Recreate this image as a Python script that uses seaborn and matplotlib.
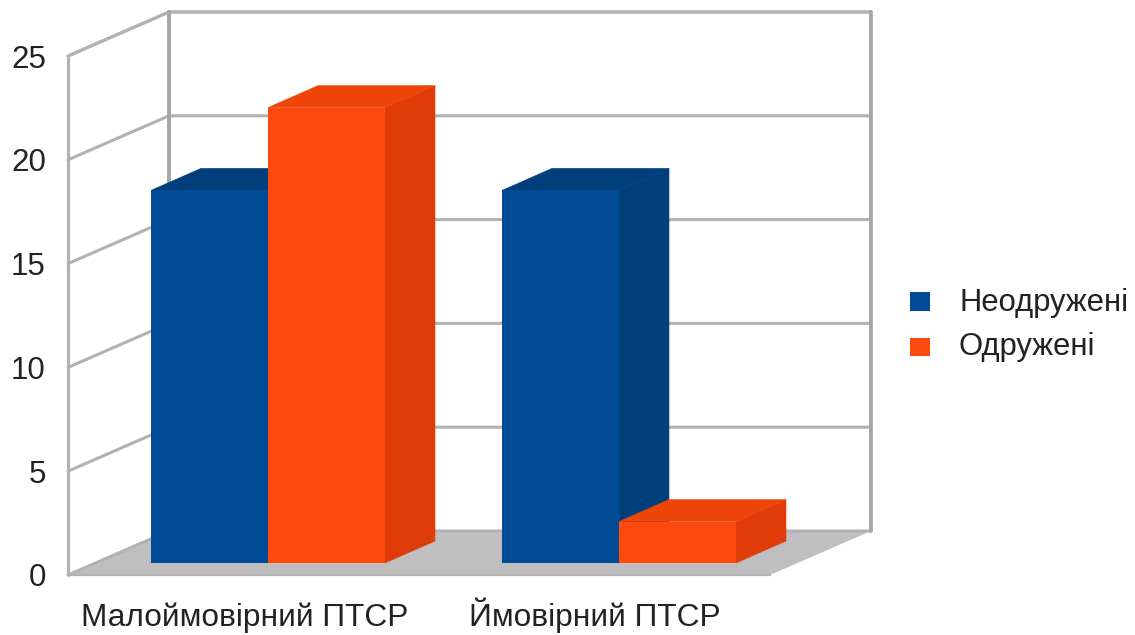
import matplotlib
matplotlib.use("Agg")
import matplotlib.pyplot as plt
from matplotlib.patches import Polygon, Rectangle
import pandas as pd
import seaborn as sns

categories = ["Малоймовірний ПТСР", "Ймовірний ПТСР"]
series_names = ["Неодружені", "Одружені"]
unmarried = [18, 18]
married = [22, 2]
y_ticks = [0, 5, 10, 15, 20, 25]

W, H = 1135, 635
GRID = "#b2b2b2"
GRID_DARK = "#a6a6a6"
FLOOR = "#bfbfbf"
TEXT = "#222222"
FACE = {"Неодружені": "#004a96", "Одружені": "#ff4a0f"}
DARK = {"Неодружені": "#003f7c", "Одружені": "#e03c0a"}
TOP = {"Неодружені": "#003f7c", "Одружені": "#f04508"}

sns.set_theme(style="white")
plt.rcParams["font.family"] = ["Liberation Sans", "DejaVu Sans"]

fig = plt.figure(figsize=(W / 100, H / 100), dpi=100, facecolor="white")


def box(l, t, r, b):
    return [l / W, 1 - b / H, (r - l) / W, (b - t) / H]


# front plane: holds the y scale and category labels
ax = fig.add_axes(box(68, 56, 770, 575))
ax.set_ylim(0, 25)
ax.set_xlim((68 - 245) / 350, (770 - 245) / 350)
ax.patch.set_alpha(0)
for s in ax.spines.values():
    s.set_visible(False)
ax.set_xticks(range(len(categories)), categories)
ax.set_yticks(y_ticks)
ax.tick_params(axis="y", length=0, labelsize=22.5, labelcolor=TEXT, pad=16)
ax.tick_params(axis="x", length=0, labelsize=22.8, labelcolor=TEXT, pad=37)
for label in ax.get_xticklabels():
    label.set_verticalalignment("baseline")

px_x = 350.0
px_y = (575 - 56) / 25
WX, WY = 101 / px_x, 44 / px_y  # wall depth in data units
x0, x1 = ax.get_xlim()

ax.add_patch(Polygon([(x0, 0), (x1, 0), (x1 + WX, WY), (x0 + WX, WY)],
                     facecolor=FLOOR, edgecolor="none", clip_on=False, zorder=1))
ax.plot([x0, x0 + WX, x1 + WX, x1 + WX],
        [25, 25 + WY, 25 + WY, WY], color=GRID, lw=2.2, clip_on=False, zorder=1)
for t in y_ticks:
    ax.plot([x0, x0 + WX, x1 + WX], [t, t + WY, t + WY], color=GRID, lw=2.2,
            clip_on=False, zorder=1, solid_joinstyle="miter")
ax.plot([x0, x1], [0, 0], color=GRID, lw=1.6, clip_on=False, zorder=1)
ax.plot([x0, x0], [0, 25], color=GRID, lw=2.2, clip_on=False, zorder=1)
ax.plot([x0 + WX, x0 + WX], [WY, 25 + WY], color=GRID_DARK, lw=2.8, clip_on=False, zorder=1)
ax.plot([x1 + WX, x1 + WX], [WY, 25 + WY], color=GRID_DARK, lw=2.6, clip_on=False, zorder=1)

# bars sit on the floor, slightly behind the front plane
BASE_PX, BAR_PX = 563, 20.7
bx = fig.add_axes(box(0, 0, W, H))
bx.patch.set_alpha(0)
df = pd.DataFrame({
    "cat": categories * 2,
    "series": [series_names[0]] * 2 + [series_names[1]] * 2,
    "value": unmarried + married,
})
sns.barplot(data=df, x="cat", y="value", hue="series", order=categories,
            hue_order=series_names, palette=FACE, width=234 / 351, gap=0,
            dodge=True, saturation=1, errorbar=None, legend=False, ax=bx, zorder=3)
bx.set_xlim((0 - 268) / 351, (W - 268) / 351)
bx.set_ylim((BASE_PX - H) / BAR_PX, BASE_PX / BAR_PX)
bx.axis("off")

DX, DY = 50 / 351, 22 / BAR_PX
for container, name in zip(bx.containers, series_names):
    for rect in container:
        l, r, h = rect.get_x(), rect.get_x() + rect.get_width(), rect.get_height()
        bx.add_patch(Polygon([(r, 0), (r + DX, DY), (r + DX, h + DY), (r, h)],
                             facecolor=DARK[name], edgecolor=DARK[name], lw=0.4, zorder=2.5))
        bx.add_patch(Polygon([(l, h), (l + DX, h + DY), (r + DX, h + DY), (r, h)],
                             facecolor=TOP[name], edgecolor=TOP[name], lw=0.4, zorder=2.5))
        rect.set_edgecolor("none")

# legend
for name, top, bot, ty, tx in zip(series_names, [292, 338], [311, 356], [303, 347], [960, 958]):
    fig.add_artist(Rectangle((910 / W, 1 - bot / H), 20 / W, (bot - top) / H,
                             transform=fig.transFigure, facecolor=FACE[name],
                             edgecolor="none"))
    fig.text(tx / W, 1 - ty / H, name, fontsize=22.3, color=TEXT,
             ha="left", va="center")

fig.savefig("out.png", dpi=100, facecolor="white")
